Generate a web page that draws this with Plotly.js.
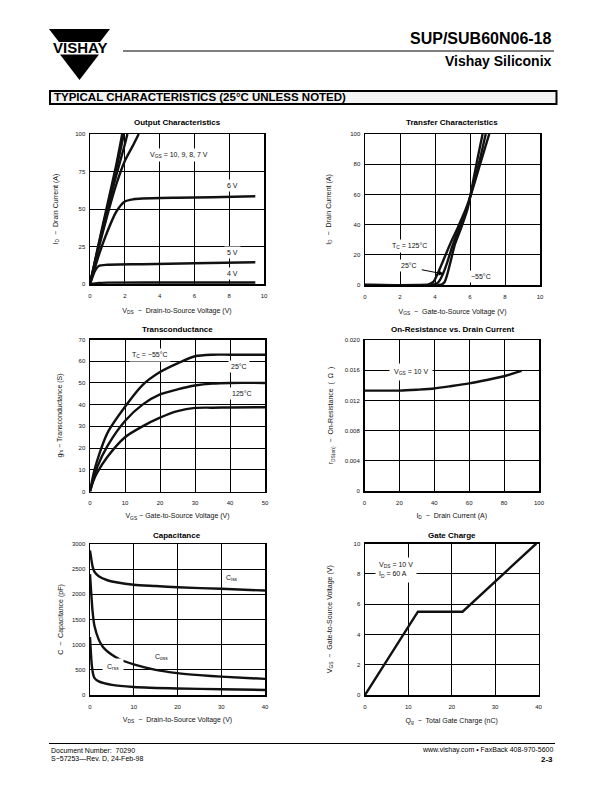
<!DOCTYPE html>
<html>
<head>
<meta charset="utf-8">
<script src="https://cdn.plot.ly/plotly-3.0.1.min.js"></script>
<style>html,body{margin:0;padding:0;background:#fff}</style>
</head>
<body>
<div id="page" style="width:612px;height:792px"></div>
<script>
// Output characteristics: ID (A) vs VDS (V), one curve per VGS
const outVds10 = [0, 0.5, 1, 1.5, 1.85];
const outId10  = [0, 27, 53, 79, 100];
const outVds9  = [0, 0.5, 1, 1.5, 1.95];
const outId9   = [0, 26, 51, 76, 100];
const outVds8  = [0, 0.5, 1, 1.5, 2, 2.15];
const outId8   = [0, 25, 49, 72, 93, 100];
const outVds7  = [0, 0.5, 1, 1.5, 2, 2.5, 2.8];
const outId7   = [0, 24, 46, 66, 82, 93, 100];
const outVds6  = [0, 0.5, 1, 1.5, 2, 2.5, 3, 5, 7, 9.5];
const outId6   = [0, 19, 35, 48, 55, 56.5, 57, 57.5, 57.8, 58.5];
const outVds5  = [0, 0.3, 0.5, 1, 3, 6, 9.5];
const outId5   = [0, 9, 12, 12.8, 13.2, 13.8, 14.5];
const outVds4  = [0, 0.5, 1, 5, 9.5];
const outId4   = [0, 0.7, 0.9, 1, 1];

// Transfer characteristics: ID (A) vs VGS (V) per case temperature
const trVgs125 = [0, 3, 3.6, 3.9, 4.13, 4.5, 4.86, 5.3, 5.75, 6, 6.5, 7.1];
const trId125  = [0, 0, 0.3, 2, 7, 17, 27, 38, 50, 58, 77, 100];
const trVgs25  = [0, 3.5, 4, 4.2, 4.44, 4.7, 5, 5.4, 5.81, 6, 6.5, 6.9];
const trId25   = [0, 0, 0.5, 2, 7, 15, 26, 38, 50, 58, 80, 100];
const trVgsM55 = [0, 4, 4.4, 4.55, 4.7, 4.9, 5.14, 5.5, 5.85, 6, 6.4, 6.72];
const trIdM55  = [0, 0, 0.5, 2, 7, 16, 27, 38, 50, 58, 82, 100];

// Transconductance: gfs (S) vs VGS (V)
const gfsVgs   = [0, 1, 2, 5, 10, 15, 20, 25, 30, 35, 40, 50];
const gfsM55   = [0, 8, 14, 27, 39, 49, 55, 59, 62.3, 63, 63, 63];
const gfs25    = [0, 6, 11, 21, 32.5, 40, 44.7, 47, 48.8, 49.7, 50, 50];
const gfs125   = [0, 5, 8.5, 16, 25, 30, 34, 37, 38.5, 38.6, 38.7, 38.8];

// On-resistance: rDS(on) (ohm) vs ID (A)
const ronId    = [0, 10, 20, 30, 40, 50, 60, 70, 80, 90];
const ronR     = [0.0133, 0.0133, 0.0133, 0.01342, 0.01358, 0.0139, 0.01425, 0.0147, 0.0152, 0.0159];

// Capacitance: C (pF) vs VDS (V)
const cissVds  = [0, 0.3, 0.6, 1, 2, 4, 6, 10, 15, 20, 30, 40];
const cissC    = [2870, 2700, 2550, 2450, 2360, 2280, 2240, 2190, 2165, 2140, 2110, 2075];
const cossVds  = [0, 0.3, 0.6, 1, 2, 3, 5, 7, 10, 15, 20, 25, 30, 40];
const cossC    = [2400, 2000, 1650, 1380, 1100, 950, 800, 700, 610, 500, 435, 395, 365, 320];
const crssVds  = [0, 0.2, 0.4, 0.7, 1, 2, 5, 10, 20, 30, 40];
const crssC    = [1150, 850, 600, 420, 340, 270, 200, 160, 130, 115, 100];

// Gate charge: VGS (V) vs Qg (nC)
const gateQg   = [0, 12.2, 22.5, 39.5];
const gateVgs  = [0, 5.5, 5.5, 10];

// Tick labels
const outXTicks = [0, 2, 4, 6, 8, 10];
const outYTicks = [0, 25, 50, 75, 100];
const trXTicks  = [0, 2, 4, 6, 8, 10];
const trYTicks  = [0, 20, 40, 60, 80, 100];
const gfsXTicks = [0, 10, 20, 30, 40, 50];
const gfsYTicks = [0, 10, 20, 30, 40, 50, 60, 70];
const ronXTicks = [0, 20, 40, 60, 80, 100];
const ronYTicks = [0, 0.004, 0.008, 0.012, 0.016, 0.020];
const ronYText  = ['0', '0.004', '0.008', '0.012', '0.016', '0.020'];
const capXTicks = [0, 10, 20, 30, 40];
const capYTicks = [0, 500, 1000, 1500, 2000, 2500, 3000];
const qgXTicks  = [0, 10, 20, 30, 40];
const qgYTicks  = [0, 2, 4, 6, 8, 10];

const FONT = 'Liberation Sans, Arial, Helvetica, sans-serif';
const W = 612, H = 792;
const X = v => v / W;
const Y = v => 1 - v / H;

function curve(x, y, n, smooth) {
    return {
        x: x, y: y, xaxis: 'x' + n, yaxis: 'y' + n,
        type: 'scatter', mode: 'lines', hoverinfo: 'skip', showlegend: false,
        line: smooth === false
            ? { color: '#111', width: 2.4 }
            : { color: '#111', width: 2.4, shape: 'spline', smoothing: 0.7 }
    };
}

const data = [
    curve(outVds10, outId10, ''), curve(outVds9, outId9, ''), curve(outVds8, outId8, ''),
    curve(outVds7, outId7, ''), curve(outVds6, outId6, ''), curve(outVds5, outId5, ''),
    curve(outVds4, outId4, ''),
    curve(trVgs125, trId125, '2'), curve(trVgs25, trId25, '2'), curve(trVgsM55, trIdM55, '2'),
    curve(gfsVgs, gfsM55, '3'), curve(gfsVgs, gfs25, '3'), curve(gfsVgs, gfs125, '3'),
    curve(ronId, ronR, '4'),
    curve(cissVds, cissC, '5'), curve(cossVds, cossC, '5'), curve(crssVds, crssC, '5'),
    curve(gateQg, gateVgs, '6', false)
];

function axis(px0, px1, isY, range, tickvals, title, standoff, anchor, ticktext) {
    const ax = {
        domain: isY ? [Y(px1), Y(px0)] : [X(px0), X(px1)],
        anchor: anchor, range: range,
        tickmode: 'array', tickvals: tickvals,
        showline: true, mirror: true, linecolor: '#000', linewidth: 1.5,
        showgrid: true, gridcolor: '#000', gridwidth: 1,
        zeroline: false, ticks: '', ticklen: 0,
        ticklabelstandoff: isY ? 2 : 5,
        tickfont: { family: FONT, size: 6, color: '#111' },
        title: { text: title, standoff: standoff, font: { family: FONT, size: 7, color: '#111' } },
        automargin: false, fixedrange: true
    };
    if (ticktext) ax.ticktext = ticktext;
    return ax;
}

const vdsTitle = 'V<sub>DS</sub>  \u2212  Drain-to-Source Voltage (V)';
const vgsTitle = 'V<sub>GS</sub>  \u2212  Gate-to-Source Voltage (V)';
const idTitle  = 'I<sub>D</sub>  \u2212  Drain Current (A)';

function note(text, x, y, n, opts) {
    return Object.assign({
        text: text, x: x, y: y, xref: 'x' + n, yref: 'y' + n,
        xanchor: 'center', yanchor: 'middle',
        showarrow: false, bgcolor: '#fff', borderpad: 2,
        font: { family: FONT, size: 7, color: '#111' }
    }, opts || {});
}

function chartTitle(text, cx, cy) {
    return {
        text: '<b>' + text + '</b>', x: X(cx), y: Y(cy), xref: 'paper', yref: 'paper',
        xanchor: 'center', yanchor: 'middle',
        showarrow: false, font: { family: FONT, size: 8, color: '#000' }
    };
}

function pageText(text, x, y, anchor, size) {
    return {
        text: text, x: X(x), y: Y(y), xref: 'paper', yref: 'paper',
        xanchor: anchor, yanchor: 'middle', showarrow: false,
        font: { family: FONT, size: size, color: '#000' }
    };
}

const annotations = [
    // chart titles
    chartTitle('Output Characteristics', 177, 123),
    chartTitle('Transfer Characteristics', 452, 123),
    chartTitle('Transconductance', 177, 329),
    chartTitle('On-Resistance vs. Drain Current', 452, 329),
    chartTitle('Capacitance', 177, 535),
    chartTitle('Gate Charge', 452, 535),
    // output characteristics labels
    note('V<sub>GS</sub> = 10, 9, 8, 7 V', 5.1, 86, ''),
    note('6 V', 8.2, 66, ''),
    note('5 V', 8.2, 21, ''),
    note('4 V', 8.2, 7, ''),
    // transfer labels
    note('T<sub>C</sub> = 125\u00b0C', 2.55, 26, '2'),
    note('25\u00b0C', 2.5, 13, '2'),
    note('\u221255\u00b0C', 6.6, 5.5, '2'),
    { text: ' ', x: 4.5, y: 7.3, ax: 3.1, ay: 10.4, xref: 'x2', yref: 'y2', axref: 'x2', ayref: 'y2',
      showarrow: true, arrowhead: 2, arrowsize: 1, arrowwidth: 1, arrowcolor: '#000',
      font: { family: FONT, size: 7 } },
    // transconductance labels
    note('T<sub>C</sub> = \u221255\u00b0C', 17, 63, '3'),
    note('25\u00b0C', 42.5, 57.4, '3'),
    note('125\u00b0C', 43.5, 45.2, '3'),
    // on-resistance label
    note('V<sub>GS</sub> = 10 V', 26.5, 0.0158, '4', { borderpad: 4 }),
    // capacitance labels
    note('C<sub>iss</sub>', 32.5, 2318, '5'),
    note('C<sub>oss</sub>', 16.4, 762, '5'),
    note('C<sub>rss</sub>', 5.3, 563, '5', { borderpad: 4 }),
    // gate charge label
    note('V<sub>DS</sub> = 10 V<br>I<sub>D</sub> = 60 A', 2.3, 8.25, '6',
         { xanchor: 'left', align: 'left', borderpad: 3 }),
    // page header and footer
    pageText('<b>SUP/SUB60N06-18</b>', 554, 39, 'right', 16),
    pageText('<b>Vishay Siliconix</b>', 554, 61, 'right', 14),
    pageText('<b>VISHAY</b>', 79.5, 48, 'center', 15),
    pageText('<b>TYPICAL CHARACTERISTICS (25\u00b0C UNLESS NOTED)</b>', 52, 97.5, 'left', 11.5),
    pageText('Document Number:  70290', 49, 750, 'left', 7),
    pageText('S\u221257253\u2014Rev. D, 24-Feb-98', 49, 758.5, 'left', 7),
    pageText('www.vishay.com \u2022 FaxBack 408-970-5600', 555, 750, 'right', 7),
    pageText('<b>2-3</b>', 555, 759, 'right', 8)
];

function poly(pts) {
    return 'M ' + pts.map(p => X(p[0]) + ' ' + Y(p[1])).join(' L ') + ' Z';
}

const shapes = [
    // logo
    { type: 'path', xref: 'paper', yref: 'paper', fillcolor: '#000', line: { width: 0 },
      path: poly([[49, 29], [110, 29], [100, 42], [59, 42]]) },
    { type: 'path', xref: 'paper', yref: 'paper', fillcolor: '#000', line: { width: 0 },
      path: poly([[60, 54.5], [99, 54.5], [79.5, 80]]) },
    // header rule
    { type: 'line', xref: 'paper', yref: 'paper', x0: X(123), x1: X(554), y0: Y(51), y1: Y(51),
      line: { color: '#000', width: 1 } },
    // section box
    { type: 'rect', xref: 'paper', yref: 'paper', x0: X(50), x1: X(556.5), y0: Y(104), y1: Y(91),
      fillcolor: '#f3f3f3', line: { color: '#000', width: 2 }, layer: 'below' },
    // footer rule
    { type: 'line', xref: 'paper', yref: 'paper', x0: X(49), x1: X(555), y0: Y(743.5), y1: Y(743.5),
      line: { color: '#000', width: 1 } }
];

const layout = {
    width: W, height: H,
    margin: { l: 0, r: 0, t: 0, b: 0 },
    paper_bgcolor: '#fff', plot_bgcolor: '#fff',
    font: { family: FONT, color: '#000' },
    showlegend: false,
    xaxis:  axis(90, 264, false, [0, 10], outXTicks, vdsTitle, 10, 'y'),
    yaxis:  axis(134, 284, true, [0, 100], outYTicks, idTitle, 16, 'x'),
    xaxis2: axis(365, 540, false, [0, 10], trXTicks, vgsTitle, 10, 'y2'),
    yaxis2: axis(134, 285, true, [0, 100], trYTicks, idTitle, 18, 'x2'),
    xaxis3: axis(90, 265, false, [0, 50], gfsXTicks, 'V<sub>GS</sub> \u2212 Gate-to-Source Voltage (V)', 8, 'y3'),
    yaxis3: axis(339.5, 491.5, true, [0, 70], gfsYTicks, 'g<sub>fs</sub> \u2212 Transconductance (S)', 15, 'x3'),
    xaxis4: axis(364.5, 539, false, [0, 100], ronXTicks, idTitle, 8, 'y4'),
    yaxis4: axis(340, 491, true, [0, 0.02], ronYTicks, 'r<sub>DS(on)</sub>  \u2212  On-Resistance  (  \u03a9  )', 10, 'x4', ronYText),
    xaxis5: axis(90, 265, false, [0, 40], capXTicks, vdsTitle, 8, 'y5'),
    yaxis5: axis(544, 695, true, [0, 3000], capYTicks, 'C  \u2212  Capacitance (pF)', 7, 'x5'),
    xaxis6: axis(365, 538.5, false, [0, 40], qgXTicks, 'Q<sub>g</sub>  \u2212  Total Gate Charge (nC)', 9, 'y6'),
    yaxis6: axis(543.5, 695, true, [0, 10], qgYTicks, vgsTitle, 20, 'x6'),
    annotations: annotations,
    shapes: shapes
};

Plotly.newPlot('page', data, layout, { staticPlot: true, displayModeBar: false });
</script>
</body>
</html>
